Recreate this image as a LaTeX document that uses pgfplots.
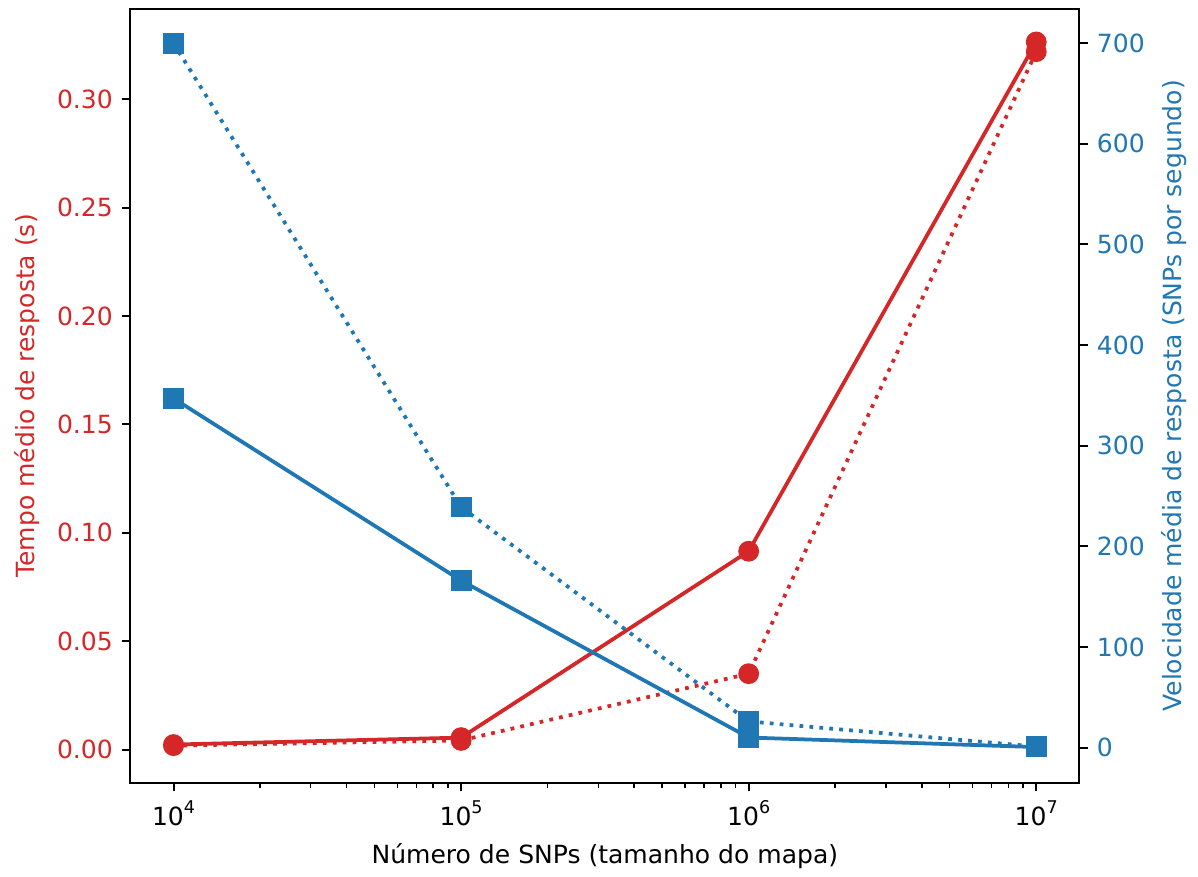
\documentclass[border={2.5pt 0pt 1pt 3.2pt}]{standalone}
\usepackage{pgfplots}
\pgfplotsset{compat=1.18}
\usepackage{fontspec}
\setmainfont{DejaVu Sans}
\definecolor{tabred}{HTML}{D62728}
\definecolor{tabblue}{HTML}{1F77B4}
\pgfplotsset{
  /pgfplots/common/.style={
    scale only axis, width=379pt, height=309pt,
    xmin=7079.5, xmax=14125375,
    tick align=outside, major tick length=3.5pt, minor tick length=2pt,
    every tick/.style={black, line width=0.8pt},
    minor tick style={line width=0.6pt},
    axis line style={line width=0.8pt},
    /pgf/number format/assume math mode=true,
    tick label style={font=\fontsize{10}{12}\selectfont},
    label style={font=\fontsize{10}{12}\selectfont},
  }
}
\begin{document}
\fontsize{10}{12}\selectfont
\begin{tikzpicture}
\begin{axis}[xmode=log, common,
  xtick pos=left, ytick pos=left,
  xtick={10000,100000,1000000,10000000},
  xticklabels={10\raisebox{0.9ex}{\fontsize{7}{8}\selectfont 4},10\raisebox{0.9ex}{\fontsize{7}{8}\selectfont 5},10\raisebox{0.9ex}{\fontsize{7}{8}\selectfont 6},10\raisebox{0.9ex}{\fontsize{7}{8}\selectfont 7}},
  ymin=-0.0153, ymax=0.3417,
  ytick={0,0.05,0.10,0.15,0.20,0.25,0.30},
  yticklabel style={color=tabred, /pgf/number format/.cd, fixed, fixed zerofill, precision=2},
  ylabel={Tempo médio de resposta (s)}, ylabel style={color=tabred},
  xlabel={Número de SNPs (tamanho do mapa)},
]
\addplot[tabred, line width=1.5pt, mark=*, mark size=3.4pt, mark options={solid}] coordinates {
(10000,0.0023) (100000,0.0055) (1000000,0.0915) (10000000,0.3265)};
\addplot[tabred, line width=1.5pt, dash pattern=on 1.5pt off 2.475pt, mark=*, mark size=3.4pt, mark options={solid}] coordinates {
(10000,0.0018) (100000,0.0042) (1000000,0.035) (10000000,0.322)};
\end{axis}
\begin{axis}[xmode=log, common,
  axis x line=none, axis y line*=right,
  ymin=-34.9, ymax=734,
  ytick={0,100,200,300,400,500,600,700},
  yticklabel style={color=tabblue},
  ylabel={Velocidade média de resposta (SNPs por segundo)}, ylabel style={color=tabblue},
]
\addplot[tabblue, line width=1.5pt, mark=square*, mark size=3.4pt, mark options={solid}] coordinates {
(10000,347) (100000,166) (1000000,10) (10000000,0.5)};
\addplot[tabblue, line width=1.5pt, dash pattern=on 1.5pt off 2.475pt, mark=square*, mark size=3.4pt, mark options={solid}] coordinates {
(10000,700) (100000,239) (1000000,26) (10000000,1)};
\end{axis}
\end{tikzpicture}
\end{document}
